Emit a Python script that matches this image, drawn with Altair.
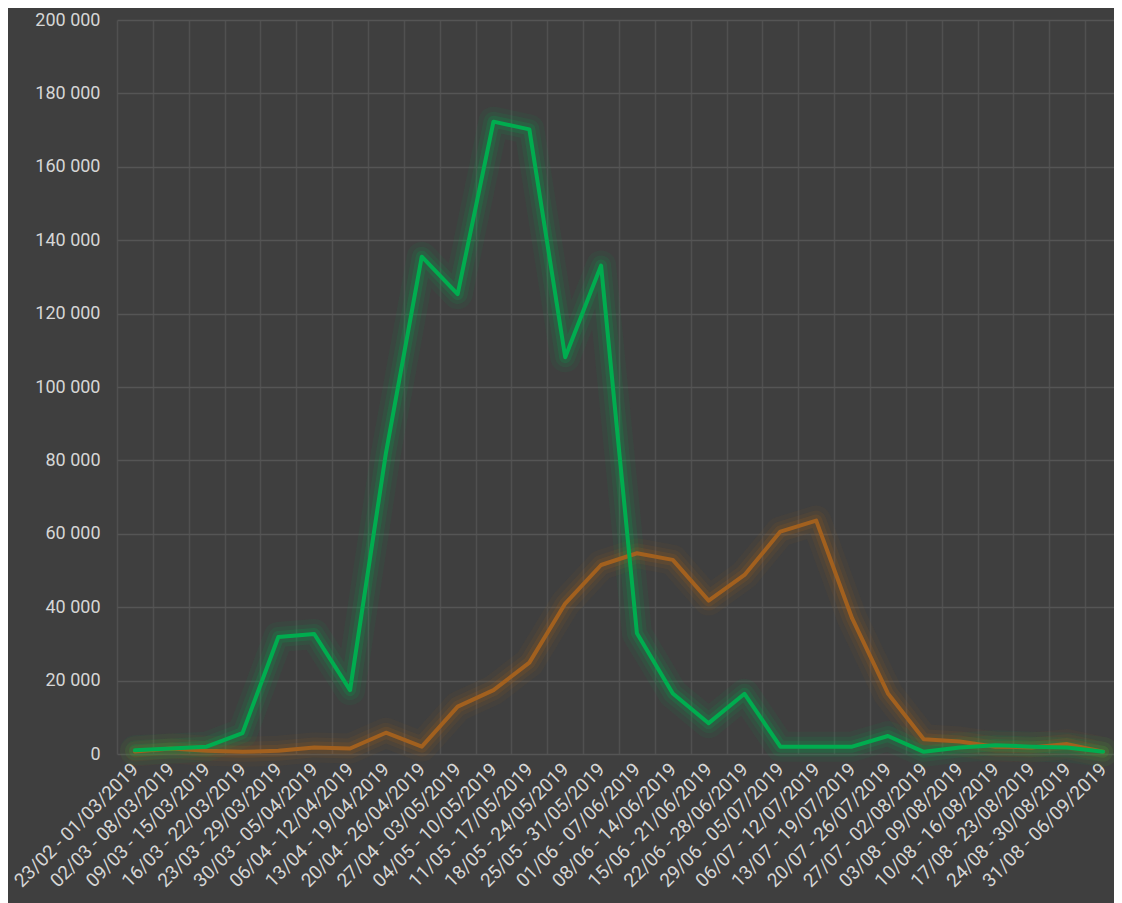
import altair as alt
import pandas as pd

weeks = [
    "23/02 - 01/03/2019", "02/03 - 08/03/2019", "09/03 - 15/03/2019", "16/03 - 22/03/2019",
    "23/03 - 29/03/2019", "30/03 - 05/04/2019", "06/04 - 12/04/2019", "13/04 - 19/04/2019",
    "20/04 - 26/04/2019", "27/04 - 03/05/2019", "04/05 - 10/05/2019", "11/05 - 17/05/2019",
    "18/05 - 24/05/2019", "25/05 - 31/05/2019", "01/06 - 07/06/2019", "08/06 - 14/06/2019",
    "15/06 - 21/06/2019", "22/06 - 28/06/2019", "29/06 - 05/07/2019", "06/07 - 12/07/2019",
    "13/07 - 19/07/2019", "20/07 - 26/07/2019", "27/07 - 02/08/2019", "03/08 - 09/08/2019",
    "10/08 - 16/08/2019", "17/08 - 23/08/2019", "24/08 - 30/08/2019", "31/08 - 06/09/2019",
]
green = [1000, 1500, 2000, 5700, 31900, 32700, 17400, 82000, 135500, 125300, 172300, 170200,
         108100, 133100, 32900, 16500, 8400, 16400, 2000, 2000, 2000, 4900, 600, 1800,
         2400, 2000, 1800, 600]
orange = [700, 1500, 900, 600, 900, 1800, 1500, 5800, 2000, 12900, 17400, 24900,
          41000, 51500, 54700, 52900, 41800, 48800, 60600, 63600, 37000, 16500, 4000, 3400,
          2000, 1800, 2700, 600]
y_ticks = list(range(0, 200001, 20000))

rows = []
for i, w in enumerate(weeks):
    rows.append({"week": w, "serie": "vert", "value": green[i], "idx": i})
    rows.append({"week": w, "serie": "orange", "value": orange[i], "idx": i})
df = pd.DataFrame(rows)

GREEN = "#00ad4f"
ORANGE = "#a2601e"
FONT = "Roboto"

x_enc = alt.X(
    "week:O", sort=weeks,
    scale=alt.Scale(type="band", range=[0, 1004], paddingInner=0, paddingOuter=0),
    axis=alt.Axis(
        title=None, labelAngle=-45, labelAlign="right", labelBaseline="middle",
        labelPadding=12, ticks=False, domain=False, grid=True, tickBand="extent",
        gridColor="#505050", gridWidth=1.5, labelFont=FONT, labelFontSize=19,
        labelColor="#d6d6d6", labelOverlap=False, labelLimit=0,
    ),
)
y_enc = alt.Y(
    "value:Q",
    scale=alt.Scale(domain=[0, 200000], nice=False, zero=True),
    axis=alt.Axis(
        title=None, values=y_ticks, labelExpr="replace(format(datum.value, ',d'), ',', ' ')",
        ticks=False, domain=False, grid=True, gridColor="#555555", gridWidth=1.5,
        labelFont=FONT, labelFontSize=18, labelColor="#d6d6d6", labelPadding=17,
    ),
)

base = alt.Chart(df).encode(x=x_enc, y=y_enc, order="idx:Q")


def series(name, color, width, opacity):
    return base.transform_filter(alt.datum.serie == name).mark_line(
        color=color, strokeWidth=width, opacity=opacity,
        strokeJoin="round", strokeCap="round",
    )


layers = []
for w, o in [(30, 0.07), (20, 0.1), (12, 0.18)]:
    layers.append(series("orange", ORANGE, w, o))
    layers.append(series("vert", GREEN, w, o))
layers.append(series("orange", ORANGE, 4, 1))
layers.append(series("vert", GREEN, 4, 1))

chart = alt.layer(*layers).properties(
    width=997, height=734,
    autosize=alt.AutoSizeParams(type="none"),
    padding={"left": 109, "top": 12, "right": 0, "bottom": 149},
    background="#3f3f3f",
).configure_view(stroke=None)

chart.save("out.html", embed_options={"renderer": "svg", "actions": False})
